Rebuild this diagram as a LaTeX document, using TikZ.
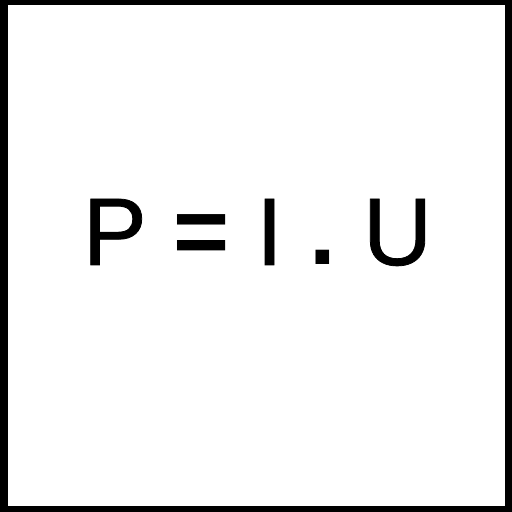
\documentclass[tikz,border=0pt]{standalone}
\usepackage{fontspec}
\setmainfont{Liberation Sans}
\newfontfamily\heavyfont[FakeBold=0.8]{Liberation Sans}
\newcommand{\hv}[1]{{\heavyfont #1}}
\begin{document}
\begin{tikzpicture}[x=1pt,y=1pt,
  frame/.style={fill=black,draw=none},
  inner/.style={fill=white,draw=none},
  formula/.style={font=\fontsize{96}{100}\selectfont,inner sep=0pt,anchor=base}]
\useasboundingbox (0,0) rectangle (512,512);
\fill[frame] (0,0) rectangle (512,512);
\fill[inner] (8,6) rectangle (505,507);
\node[formula] (f) at (257.5,247) {\hv{P} \textbf{=} \hv{I} \textbf{.} \hv{U}};
\end{tikzpicture}
\end{document}
